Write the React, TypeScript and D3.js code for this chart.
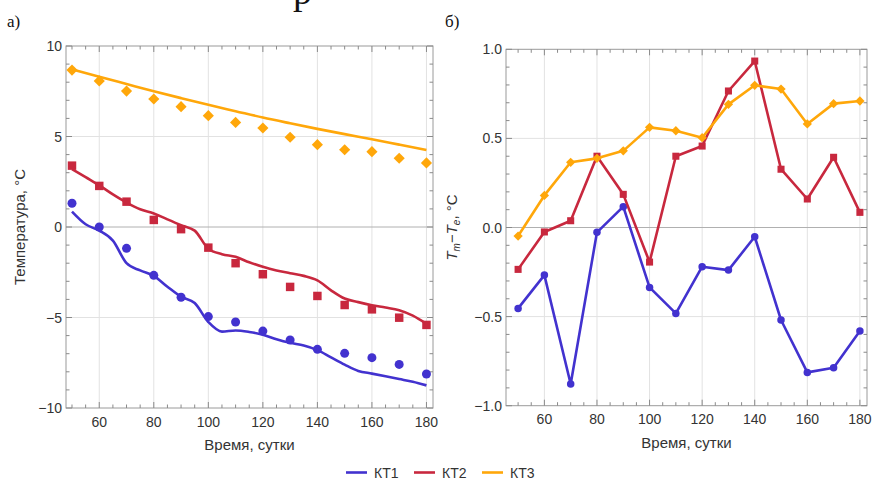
import React from 'react';
import * as d3 from 'd3';

// ---------- data ----------
const days = [50, 60, 70, 80, 90, 100, 110, 120, 130, 140, 150, 160, 170, 180];
const modelDays = [50, 55, 60, 65, 70, 75, 80, 85, 90, 95, 100, 105, 110, 115, 120, 125, 130, 135, 140, 145, 150, 155, 160, 165, 170, 175, 180];

// panel a) observed temperatures
const obsKT1 = [1.31, 0.0, -1.18, -2.67, -3.88, -4.95, -5.25, -5.75, -6.24, -6.76, -6.98, -7.22, -7.59, -8.12];
const obsKT2 = [3.39, 2.27, 1.40, 0.39, -0.12, -1.14, -2.0, -2.61, -3.31, -3.81, -4.31, -4.55, -5.01, -5.41];
const obsKT3 = [8.67, 8.07, 7.51, 7.07, 6.65, 6.15, 5.78, 5.47, 4.96, 4.55, 4.27, 4.16, 3.80, 3.54];

// panel a) model curves
const modelKT1 = [0.85, 0.15, -0.2, -0.75, -2.0, -2.4, -2.7, -3.3, -3.85, -4.2, -5.25, -5.78, -5.72, -5.8, -5.95, -6.2, -6.4, -6.55, -6.8, -7.2, -7.6, -7.95, -8.1, -8.25, -8.4, -8.55, -8.75];
const modelKT2 = [3.2, 2.75, 2.3, 1.8, 1.35, 0.98, 0.75, 0.42, 0.1, -0.2, -1.2, -1.5, -1.65, -1.95, -2.2, -2.4, -2.55, -2.7, -2.95, -3.5, -3.95, -4.15, -4.32, -4.45, -4.6, -4.9, -5.35];
const modelKT3 = [8.71, 8.3, 7.9, 7.5, 7.12, 6.75, 6.4, 6.05, 5.73, 5.42, 5.13, 4.85, 4.55, 4.25];

// panel б) differences
const diffKT1 = [-0.454, -0.267, -0.878, -0.027, 0.117, -0.336, -0.482, -0.22, -0.239, -0.052, -0.519, -0.813, -0.787, -0.581];
const diffKT2 = [-0.235, -0.025, 0.038, 0.40, 0.186, -0.194, 0.40, 0.457, 0.766, 0.934, 0.327, 0.16, 0.394, 0.085];
const diffKT3 = [-0.048, 0.18, 0.366, 0.388, 0.43, 0.562, 0.543, 0.504, 0.691, 0.798, 0.777, 0.581, 0.695, 0.71];

const seriesNames = ['КТ1', 'КТ2', 'КТ3'];
const colors = ['#4232cf', '#c8283e', '#ffa70a'];

const xMajor = [60, 80, 100, 120, 140, 160, 180];
const xMinor = [50, 55, 65, 70, 75, 85, 90, 95, 105, 110, 115, 125, 130, 135, 145, 150, 155, 165, 170, 175];
const yMajorA = [-10, -5, 0, 5, 10];
const yMajorB = [-1, -0.5, 0, 0.5, 1];

const FONT = "'Liberation Sans', Arial, sans-serif";
const SERIF = "'Liberation Serif', 'Times New Roman', serif";

type Frame = { left: number; right: number; top: number; bottom: number; xDom: [number, number]; yDom: [number, number] };

const frameA: Frame = { left: 66, right: 433, top: 46, bottom: 408, xDom: [47.8, 182.4], yDom: [-10, 10] };
const frameB: Frame = { left: 506, right: 867, top: 49.3, bottom: 405.7, xDom: [45.4, 182.7], yDom: [-1, 1] };

function fmtA(v: number) {
  return v < 0 ? '\u2212' + Math.abs(v) : String(v);
}
function fmtB(v: number) {
  return v < 0 ? '\u2212' + Math.abs(v).toFixed(1) : v.toFixed(1);
}

function Marker({ kind, x, y, color, size }: { kind: number; x: number; y: number; color: string; size: number }) {
  if (kind === 0) return <circle cx={x} cy={y} r={size * 0.5} fill={color} />;
  if (kind === 1) return <rect x={x - size * 0.47} y={y - size * 0.47} width={size * 0.94} height={size * 0.94} fill={color} />;
  const s = size * 0.62;
  return <path d={`M${x},${y - s}L${x + s},${y}L${x},${y + s}L${x - s},${y}Z`} fill={color} />;
}

function FrameAxes({ f, yMajor, yMinorStep, fmt }: { f: Frame; yMajor: number[]; yMinorStep: number; fmt: (v: number) => string }) {
  const x = d3.scaleLinear().domain(f.xDom).range([f.left, f.right]);
  const y = d3.scaleLinear().domain(f.yDom).range([f.bottom, f.top]);
  const yMinor: number[] = [];
  const n = Math.round((f.yDom[1] - f.yDom[0]) / yMinorStep);
  for (let i = 0; i <= n; i++) {
    const v = f.yDom[0] + i * yMinorStep;
    if (!yMajor.some((m) => Math.abs(m - v) < 1e-6)) yMinor.push(v);
  }
  const tickCol = '#8a8a8a';
  return (
    <g>
      {/* grid */}
      {xMajor.map((v) => (
        <line key={'gx' + v} x1={x(v)} x2={x(v)} y1={f.top} y2={f.bottom} stroke="#e2e2e2" strokeWidth={1} />
      ))}
      {yMajor.filter((v) => v > f.yDom[0] && v < f.yDom[1]).map((v) => (
        <line key={'gy' + v} x1={f.left} x2={f.right} y1={y(v)} y2={y(v)} stroke={v === 0 ? '#b0b0b0' : '#e2e2e2'} strokeWidth={1} />
      ))}
      {/* frame */}
      <rect x={f.left} y={f.top} width={f.right - f.left} height={f.bottom - f.top} fill="none" stroke="#9a9a9a" strokeWidth={1} />
      {/* ticks */}
      {xMajor.map((v) => (
        <g key={'tx' + v}>
          <line x1={x(v)} x2={x(v)} y1={f.bottom} y2={f.bottom - 6} stroke={tickCol} />
          <line x1={x(v)} x2={x(v)} y1={f.top} y2={f.top + 6} stroke={tickCol} />
        </g>
      ))}
      {xMinor.map((v) => (
        <g key={'tmx' + v}>
          <line x1={x(v)} x2={x(v)} y1={f.bottom} y2={f.bottom - 3.5} stroke={tickCol} />
          <line x1={x(v)} x2={x(v)} y1={f.top} y2={f.top + 3.5} stroke={tickCol} />
        </g>
      ))}
      {yMajor.map((v) => (
        <g key={'ty' + v}>
          <line x1={f.left} x2={f.left + 6} y1={y(v)} y2={y(v)} stroke={tickCol} />
          <line x1={f.right} x2={f.right - 6} y1={y(v)} y2={y(v)} stroke={tickCol} />
        </g>
      ))}
      {yMinor.map((v) => (
        <g key={'tmy' + v}>
          <line x1={f.left} x2={f.left + 3.5} y1={y(v)} y2={y(v)} stroke={tickCol} />
          <line x1={f.right} x2={f.right - 3.5} y1={y(v)} y2={y(v)} stroke={tickCol} />
        </g>
      ))}
      {/* tick labels */}
      {xMajor.map((v) => (
        <text key={'lx' + v} x={x(v)} y={f.bottom + 18.5} textAnchor="middle" fontFamily={FONT} fontSize={14} fill="#333">
          {v}
        </text>
      ))}
      {yMajor.map((v) => (
        <text key={'ly' + v} x={f.left - 4} y={y(v) + 5} textAnchor="end" fontFamily={FONT} fontSize={14} fill="#333">
          {fmt(v)}
        </text>
      ))}
      <text x={(f.left + f.right) / 2} y={f.bottom + 42} textAnchor="middle" fontFamily={FONT} fontSize={15} fill="#333">
        Время, сутки
      </text>
    </g>
  );
}

export default function App() {
  const xa = d3.scaleLinear().domain(frameA.xDom).range([frameA.left, frameA.right]);
  const ya = d3.scaleLinear().domain(frameA.yDom).range([frameA.bottom, frameA.top]);
  const xb = d3.scaleLinear().domain(frameB.xDom).range([frameB.left, frameB.right]);
  const yb = d3.scaleLinear().domain(frameB.yDom).range([frameB.bottom, frameB.top]);

  const smooth = d3
    .line<[number, number]>()
    .x((d) => xa(d[0]))
    .y((d) => ya(d[1]))
    .curve(d3.curveMonotoneX);
  const straight = d3
    .line<[number, number]>()
    .x((d) => xb(d[0]))
    .y((d) => yb(d[1]));

  const modelLines: [number, number][][] = [
    modelDays.map((d, i) => [d, modelKT1[i]] as [number, number]),
    modelDays.map((d, i) => [d, modelKT2[i]] as [number, number]),
    days.map((d, i) => [d, modelKT3[i]] as [number, number]),
  ];
  const obs = [obsKT1, obsKT2, obsKT3];
  const diffs = [diffKT1, diffKT2, diffKT3];

  const legendX = [346, 414, 482];

  return (
    <svg width={872} height={480} style={{ position: 'absolute', left: 0, top: 0, background: '#fff' }}>
      <rect x={0} y={0} width={872} height={480} fill="#fff" />
      {/* cut-off text from above */}
      <text x={293} y={4} fontFamily={SERIF} fontSize={38} fill="#111">р</text>

      <text x={7} y={27} fontFamily={SERIF} fontSize={17} fill="#111">а)</text>
      <text x={445} y={27} fontFamily={SERIF} fontSize={17} fill="#111">б)</text>

      {/* panel a */}
      <FrameAxes f={frameA} yMajor={yMajorA} yMinorStep={1} fmt={fmtA} />
      {modelLines.map((pts, k) => (
        <path key={'ml' + k} d={smooth(pts) || ''} fill="none" stroke={colors[k]} strokeWidth={2.6} strokeLinejoin="round" />
      ))}
      {obs.map((arr, k) =>
        arr.map((v, i) => <Marker key={'om' + k + '-' + i} kind={k} x={xa(days[i])} y={ya(v)} color={colors[k]} size={9} />)
      )}
      <text
        transform={`translate(25,${(frameA.top + frameA.bottom) / 2}) rotate(-90)`}
        textAnchor="middle"
        fontFamily={FONT}
        fontSize={15}
        fill="#333"
      >
        Температура, °C
      </text>

      {/* panel b */}
      <FrameAxes f={frameB} yMajor={yMajorB} yMinorStep={0.1} fmt={fmtB} />
      {diffs.map((arr, k) => (
        <g key={'dg' + k}>
          <path d={straight(arr.map((v, i) => [days[i], v] as [number, number])) || ''} fill="none" stroke={colors[k]} strokeWidth={2.6} strokeLinejoin="round" />
          {arr.map((v, i) => (
            <Marker key={'dm' + k + '-' + i} kind={k} x={xb(days[i])} y={yb(v)} color={colors[k]} size={7.5} />
          ))}
        </g>
      ))}
      <text
        transform={`translate(457,${(frameB.top + frameB.bottom) / 2}) rotate(-90)`}
        textAnchor="middle"
        fontFamily={FONT}
        fontSize={15}
        fill="#333"
      >
        <tspan fontStyle="italic">T</tspan>
        <tspan fontStyle="italic" fontSize={10} dy={3}>m</tspan>
        <tspan dy={-3}>−</tspan>
        <tspan fontStyle="italic">T</tspan>
        <tspan fontStyle="italic" fontSize={10} dy={3}>e</tspan>
        <tspan dy={-3}>, °C</tspan>
      </text>

      {/* legend */}
      {seriesNames.map((name, k) => (
        <g key={'lg' + k}>
          <line x1={legendX[k]} x2={legendX[k] + 21} y1={472.5} y2={472.5} stroke={colors[k]} strokeWidth={2.6} />
          <text x={legendX[k] + 28} y={477.5} fontFamily={FONT} fontSize={14} fill="#333">
            {name}
          </text>
        </g>
      ))}
    </svg>
  );
}
